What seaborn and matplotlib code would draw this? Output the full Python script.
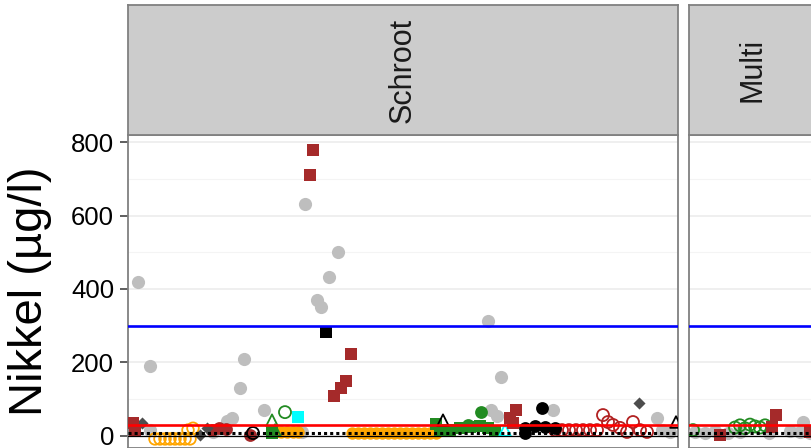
import numpy as np
import pandas as pd
import matplotlib
matplotlib.use("Agg")
import matplotlib.pyplot as plt
import seaborn as sns

# ---------------- data (x = sample position within facet, v = Nikkel µg/l) ----------------
panels = ["Schroot", "Multi"]
y_ticks = [0, 200, 400, 600, 800]
y_label = "Nikkel (µg/l)"
limit_blue = 300
limit_red = 30
limit_dotted = 8

# Schroot
s_grey_x = [10, 22, 177, 210, 201, 189, 193, 116, 112, 360, 373, 363, 369, 425, 136, 104, 99, 85, 174, 22, 529, 534, 542]
s_grey_v = [419, 190, 631, 501, 433, 370, 350, 209, 130, 312, 160, 70, 53, 70, 70, 48, 40, 10, 10, 15, 48, 15, 10]
s_brown_sq_x = [185, 182, 223, 218, 213, 206, 388, 382, 385, 5, 7]
s_brown_sq_v = [779, 710, 222, 149, 130, 108, 70, 48, 34, 34, 15]
s_black_sq_x = [198]
s_black_sq_v = [282]
s_black_pt_x = [414, 397, 407, 417, 427, 397]
s_black_pt_v = [75, 21, 26, 23, 21, 7]
s_diamond_x = [511, 14, 72, 79]
s_diamond_v = [89, 34, 2, 20]
s_orange_open_x = [27, 32, 37, 42, 47, 52, 57, 62, 60, 65]
s_orange_open_v = [-9, -9, -9, -9, -9, -9, -9, -9, 15, 20]
s_orange_x = [147, 153, 159, 165, 170, 224, 230, 236, 242, 248, 254, 260, 266, 272, 278, 284, 290, 296, 302, 308]
s_orange_v = [10, 10, 10, 10, 10, 7, 7, 7, 7, 7, 7, 7, 7, 7, 7, 7, 7, 7, 7, 7]
s_green_sq_x = [308, 312, 322, 332, 342, 352, 360, 367, 144]
s_green_sq_v = [32, 15, 15, 21, 23, 26, 21, 12, 7]
s_green_pt_x = [353, 340]
s_green_pt_v = [64, 28]
s_green_open_x = [157]
s_green_open_v = [64]
s_green_tri_x = [144, 147]
s_green_tri_v = [42, 15]
s_black_tri_x = [315, 548]
s_black_tri_v = [42, 37]
s_cyan_sq_x = [170]
s_cyan_sq_v = [51]
s_cyan_tri_x = [377]
s_cyan_tri_v = [15]
s_red_open_x = [427, 434, 441, 448, 455, 462, 469, 475, 480, 485, 492, 499, 505, 512, 519]
s_red_open_v = [15, 15, 15, 15, 15, 15, 15, 56, 37, 29, 21, 10, 37, 15, 10]
s_red_pt_x = [84, 91, 98, 122]
s_red_pt_v = [15, 20, 18, 2]
s_black_open_x = [125]
s_black_open_v = [7]

# Multi
m_grey_x = [6, 16, 26, 39, 51, 80, 101, 111, 121, 114]
m_grey_v = [10, 8, 12, 8, 10, 8, 12, 10, 8, 37]
m_green_open_x = [4, 46, 51, 56, 61, 66, 71, 76]
m_green_open_v = [15, 22, 28, 20, 30, 25, 22, 28]
m_brown_sq_x = [87, 83, 121, 31]
m_brown_sq_v = [56, 24, 10, 2]

# ---------------- build tidy frame ----------------
def frame(panel, group, xs, vs):
    return pd.DataFrame({"panel": panel, "group": group, "x": xs, "value": vs})

df = pd.concat([
    frame("Schroot", "grey", s_grey_x, s_grey_v),
    frame("Schroot", "brown_sq", s_brown_sq_x, s_brown_sq_v),
    frame("Schroot", "black_sq", s_black_sq_x, s_black_sq_v),
    frame("Schroot", "black_pt", s_black_pt_x, s_black_pt_v),
    frame("Schroot", "diamond", s_diamond_x, s_diamond_v),
    frame("Schroot", "orange_open", s_orange_open_x, s_orange_open_v),
    frame("Schroot", "orange", s_orange_x, s_orange_v),
    frame("Schroot", "green_sq", s_green_sq_x, s_green_sq_v),
    frame("Schroot", "green_pt", s_green_pt_x, s_green_pt_v),
    frame("Schroot", "green_open", s_green_open_x, s_green_open_v),
    frame("Schroot", "green_tri", s_green_tri_x, s_green_tri_v),
    frame("Schroot", "black_tri", s_black_tri_x, s_black_tri_v),
    frame("Schroot", "cyan_sq", s_cyan_sq_x, s_cyan_sq_v),
    frame("Schroot", "cyan_tri", s_cyan_tri_x, s_cyan_tri_v),
    frame("Schroot", "red_open", s_red_open_x, s_red_open_v),
    frame("Schroot", "red_pt", s_red_pt_x, s_red_pt_v),
    frame("Schroot", "black_open", s_black_open_x, s_black_open_v),
    frame("Multi", "grey", m_grey_x, m_grey_v),
    frame("Multi", "green_open", m_green_open_x, m_green_open_v),
    frame("Multi", "brown_sq", m_brown_sq_x, m_brown_sq_v),
], ignore_index=True)

# group -> (marker, colour, filled, size)
styles = {
    "grey": ("o", "#BEBEBE", True, 90),
    "orange": ("o", "#FFA500", True, 80),
    "orange_open": ("o", "#FFA500", False, 70),
    "green_sq": ("s", "#228B22", True, 75),
    "green_pt": ("o", "#228B22", True, 85),
    "green_open": ("o", "#228B22", False, 75),
    "green_tri": ("^", "#228B22", False, 70),
    "black_tri": ("^", "#000000", False, 70),
    "cyan_sq": ("s", "#00FFFF", True, 75),
    "cyan_tri": ("^", "#00FFFF", False, 70),
    "red_open": ("o", "#B22222", False, 75),
    "red_pt": ("o", "#A52A2A", True, 85),
    "black_open": ("o", "#000000", False, 75),
    "diamond": ("D", "#4D4D4D", True, 38),
    "brown_sq": ("s", "#A52A2A", True, 78),
    "black_sq": ("s", "#000000", True, 78),
    "black_pt": ("o", "#000000", True, 85),
}

# ---------------- figure ----------------
sns.set_theme(style="white")
plt.rcParams["font.family"] = ["Liberation Sans", "DejaVu Sans"]

W, H = 812, 448
fig = plt.figure(figsize=(W / 100, H / 100), dpi=100)
fig.patch.set_facecolor("white")

def fx(px):
    return px / W

def fy(py):
    return 1 - py / H

panel_top = 135
strip_top = 5
px_per_unit = 0.3667
y0_px = 435.6
ymax = (y0_px - panel_top) / px_per_unit
ymin = (y0_px - H) / px_per_unit

panel_px = {"Schroot": (128, 678), "Multi": (689, 816)}

for name in panels:
    l, r = panel_px[name]
    ax = fig.add_axes([fx(l), 0, fx(r - l), fy(panel_top)])
    sub = df[df.panel == name]
    ax.set_facecolor("white")
    ax.set_xlim(0, r - l)
    ax.set_ylim(ymin, ymax)
    # grid
    for v in [100, 300, 500, 700]:
        ax.axhline(v, color="#F4F4F4", lw=0.8, zorder=0)
    for v in y_ticks:
        ax.axhline(v, color="#EBEBEB", lw=1.1, zorder=0)
    order = ["grey", "orange", "orange_open", "green_sq", "green_pt", "green_open", "green_tri",
             "black_tri", "cyan_sq", "cyan_tri", "red_open", "red_pt", "black_open", "diamond",
             "brown_sq", "black_sq", "black_pt"]
    for g in order:
        d = sub[sub.group == g]
        if d.empty:
            continue
        mk, col, filled, size = styles[g]
        if filled:
            sns.scatterplot(data=d, x="x", y="value", ax=ax, marker=mk, color=col,
                            edgecolor=col, linewidth=0, s=size, legend=False, zorder=3)
        else:
            sns.scatterplot(data=d, x="x", y="value", ax=ax, marker=mk, color=col,
                            facecolor="none", edgecolor=col, linewidth=1.3, s=size,
                            legend=False, zorder=3)
    ax.axhline(0, color="black", lw=0.9, zorder=4)
    ax.axhline(limit_dotted, color="black", lw=2.2, linestyle=(0, (1, 1)), zorder=5)
    ax.axhline(limit_red, color="#FF0000", lw=1.9, zorder=5)
    ax.axhline(limit_blue, color="#0000FF", lw=1.9, zorder=5)
    ax.set_xlabel("")
    ax.set_ylabel("")
    ax.set_xticks([])
    for sp in ax.spines.values():
        sp.set_color("#808080")
        sp.set_linewidth(1.3)
    if name == "Schroot":
        ax.set_yticks(y_ticks)
        ax.set_yticklabels([str(t) for t in y_ticks], fontsize=18.5, color="black")
        ax.tick_params(axis="y", length=6, width=1.1, color="#333333", pad=4, left=True)
    else:
        ax.set_yticks([])
    # strip
    sax = fig.add_axes([fx(l), fy(panel_top), fx(r - l), fy(strip_top) - fy(panel_top)])
    sax.set_facecolor("#CCCCCC")
    sax.set_xticks([])
    sax.set_yticks([])
    for sp in sax.spines.values():
        sp.set_color("#808080")
        sp.set_linewidth(1.3)
    sax.text(0.5, 0.5, name, rotation=90, ha="center", va="center",
             fontsize=22, color="#1A1A1A", transform=sax.transAxes)

fig.text(fx(30), fy((panel_top + H) / 2), y_label, rotation=90, ha="center", va="center",
         fontsize=34, color="black")

fig.savefig("out.png", dpi=100, facecolor="white")
